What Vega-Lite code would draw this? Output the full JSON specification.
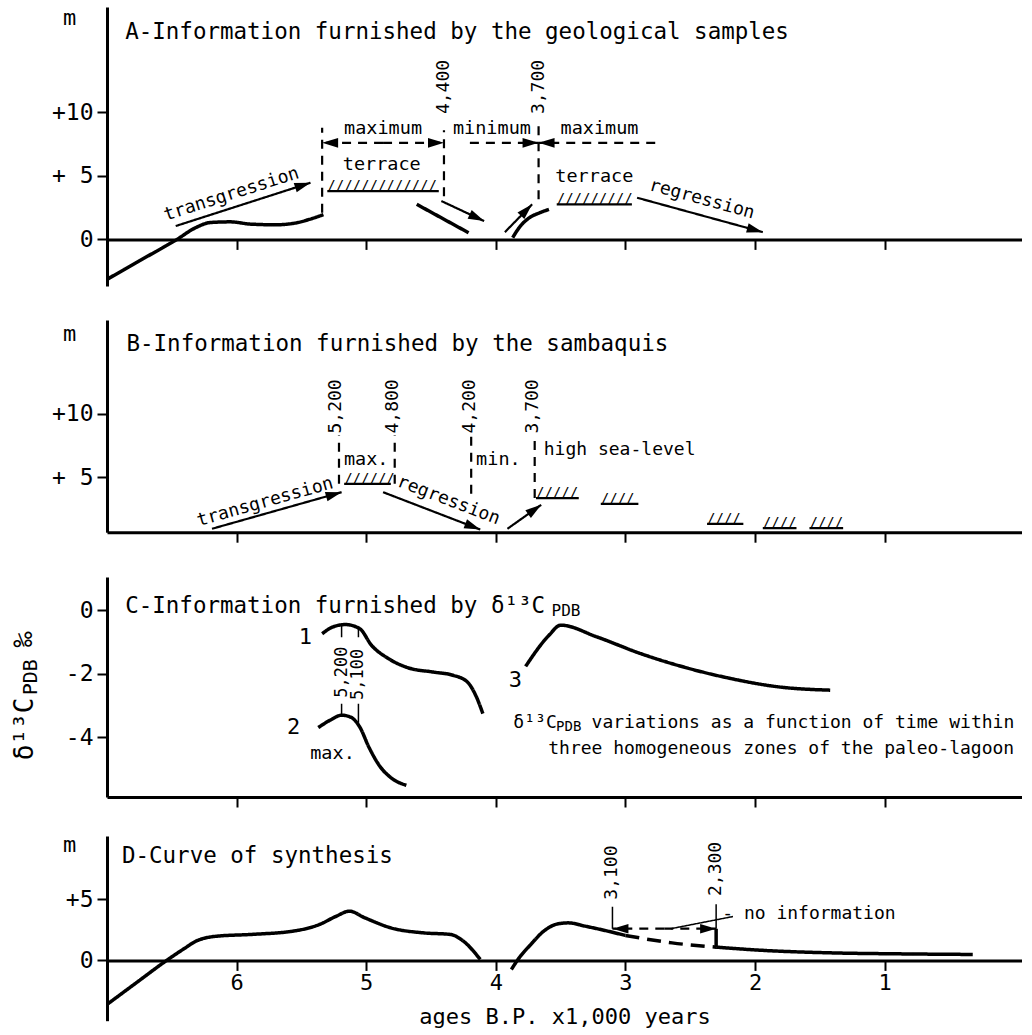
{
"$schema": "https://vega.github.io/schema/vega-lite/v6.json",
"padding": {"top": 6, "left": 11, "right": 0, "bottom": 0},
"background": "white",
"config": {
  "font": "DejaVu Sans Mono",
  "view": {"stroke": null},
  "axis": {"grid": false, "domainColor": "black", "domainWidth": 3, "tickColor": "black", "tickWidth": 2, "tickSize": 10, "labelColor": "black", "labelFont": "DejaVu Sans Mono", "labelFontSize": 23, "titleFont": "DejaVu Sans Mono", "titleFontSize": 22, "titleFontWeight": "normal", "titleColor": "black"},
  "text": {"font": "DejaVu Sans Mono", "color": "black"}
},
"datasets": {
  "aCurves": [
    {"s":"a1","x":7.0,"y":-3.15,"style":"curve"},{"s":"a1","x":6.75,"y":-1.69,"style":"curve"},{"s":"a1","x":6.46,"y":0,"style":"curve"},{"s":"a1","x":6.32,"y":0.9,"style":"curve"},{"s":"a1","x":6.2,"y":1.33,"style":"curve"},{"s":"a1","x":6.05,"y":1.38,"style":"curve"},{"s":"a1","x":5.89,"y":1.2,"style":"curve"},{"s":"a1","x":5.7,"y":1.15,"style":"curve"},{"s":"a1","x":5.55,"y":1.28,"style":"curve"},{"s":"a1","x":5.44,"y":1.57,"style":"curve"},{"s":"a1","x":5.33,"y":1.95,"style":"curve"},
    {"s":"a2","x":4.61,"y":2.76,"style":"curve"},{"s":"a2","x":4.21,"y":0.52,"style":"curve"},
    {"s":"a3","x":3.87,"y":0.13,"style":"curve"},{"s":"a3","x":3.82,"y":0.92,"style":"curve"},{"s":"a3","x":3.74,"y":1.71,"style":"curve"},{"s":"a3","x":3.66,"y":2.1,"style":"curve"},{"s":"a3","x":3.59,"y":2.36,"style":"curve"}
  ],
  "aSegs": [
    {"x":6.47,"y":1.05,"x2":5.43,"y2":4.46,"style":"line","head":-17.8,"label":"transgression","lx":6.04,"ly":3.54},
    {"x":4.42,"y":3.02,"x2":4.09,"y2":1.44,"style":"line","head":25.1},
    {"x":3.93,"y":0.57,"x2":3.72,"y2":2.76,"style":"line","head":-45.6},
    {"x":2.91,"y":3.28,"x2":1.94,"y2":0.57,"style":"line","head":15.3,"label":"regression","lx":2.41,"ly":3.15},
    {"x":5.34,"y":2.1,"x2":5.34,"y2":8.8,"style":"dash"},
    {"x":4.4,"y":3.4,"x2":4.4,"y2":8.6,"style":"dash"},
    {"x":3.67,"y":3.15,"x2":3.67,"y2":8.9,"style":"dash"},
    {"x":4.87,"y":7.6,"x2":5.34,"y2":7.6,"style":"dash","head":180},
    {"x":4.87,"y":7.6,"x2":4.4,"y2":7.6,"style":"dash","head":0},
    {"x":4.2,"y":7.6,"x2":3.67,"y2":7.6,"style":"dash","head":0},
    {"x":2.77,"y":7.6,"x2":3.67,"y2":7.6,"style":"dash","head":180}
  ],
  "aHatch": [
    {"x":5.30,"x2":4.44,"y":3.8,"h":"/////////////"},
    {"x":3.53,"x2":2.95,"y":2.76,"h":"/////////"}
  ],
  "aText": [
    {"kind":"title","x":6.86,"y":16.3,"t":"A-Information furnished by the geological samples"},
    {"kind":"label","x":4.87,"y":8.75,"t":"maximum"},
    {"kind":"label","x":4.03,"y":8.75,"t":"minimum"},
    {"kind":"label","x":3.2,"y":8.75,"t":"maximum"},
    {"kind":"label","x":4.88,"y":5.9,"t":"terrace"},
    {"kind":"label","x":3.24,"y":5.0,"t":"terrace"},
    {"kind":"date","x":4.4,"y":12.0,"t":"4,400"},
    {"kind":"date","x":3.67,"y":12.0,"t":"3,700"}
  ],
  "bSegs": [
    {"x":6.19,"y":0.92,"x2":5.19,"y2":3.81,"style":"line","head":-15.8,"label":"transgression","lx":5.78,"ly":3.02},
    {"x":4.87,"y":3.81,"x2":4.12,"y2":0.86,"style":"line","head":21.0,"label":"regression","lx":4.365,"ly":3.15},
    {"x":3.91,"y":0.92,"x2":3.65,"y2":2.81,"style":"line","head":-35.4},
    {"x":5.21,"y":4.47,"x2":5.21,"y2":8.3,"style":"dash"},
    {"x":4.78,"y":4.47,"x2":4.78,"y2":8.3,"style":"dash"},
    {"x":4.19,"y":3.68,"x2":4.19,"y2":8.3,"style":"dash"},
    {"x":3.70,"y":3.34,"x2":3.70,"y2":8.3,"style":"dash"}
  ],
  "bHatch": [
    {"x":5.17,"x2":4.81,"y":4.47,"h":"//////"},
    {"x":3.69,"x2":3.36,"y":3.34,"h":"/////"},
    {"x":3.19,"x2":2.90,"y":2.89,"h":"////"},
    {"x":2.37,"x2":2.09,"y":1.31,"h":"////"},
    {"x":1.94,"x2":1.68,"y":0.97,"h":"////"},
    {"x":1.58,"x2":1.32,"y":0.97,"h":"////"}
  ],
  "bText": [
    {"kind":"title","x":6.85,"y":15.5,"t":"B-Information furnished by the sambaquis"},
    {"kind":"label","x":5.0,"y":6.44,"t":"max."},
    {"kind":"label","x":3.98,"y":6.44,"t":"min."},
    {"kind":"labelL","x":3.63,"y":7.1,"t":"high sea-level"},
    {"kind":"date","x":5.23,"y":10.58,"t":"5,200"},
    {"kind":"date","x":4.79,"y":10.58,"t":"4,800"},
    {"kind":"date","x":4.2,"y":10.58,"t":"4,200"},
    {"kind":"date","x":3.71,"y":10.58,"t":"3,700"}
  ],
  "cCurves": [
    {"s":"c1","x":5.34,"y":-0.74,"style":"curve"},{"s":"c1","x":5.26,"y":-0.53,"style":"curve"},{"s":"c1","x":5.16,"y":-0.45,"style":"curve"},{"s":"c1","x":5.05,"y":-0.58,"style":"curve"},{"s":"c1","x":4.96,"y":-1.1,"style":"curve"},{"s":"c1","x":4.83,"y":-1.52,"style":"curve"},{"s":"c1","x":4.68,"y":-1.81,"style":"curve"},{"s":"c1","x":4.48,"y":-1.95,"style":"curve"},{"s":"c1","x":4.33,"y":-2.05,"style":"curve"},{"s":"c1","x":4.22,"y":-2.26,"style":"curve"},{"s":"c1","x":4.15,"y":-2.73,"style":"curve"},{"s":"c1","x":4.1,"y":-3.26,"style":"curve"},
    {"s":"c2","x":5.37,"y":-3.7,"style":"curve"},{"s":"c2","x":5.28,"y":-3.47,"style":"curve"},{"s":"c2","x":5.19,"y":-3.31,"style":"curve"},{"s":"c2","x":5.12,"y":-3.37,"style":"curve"},{"s":"c2","x":5.05,"y":-3.68,"style":"curve"},{"s":"c2","x":4.98,"y":-4.31,"style":"curve"},{"s":"c2","x":4.9,"y":-4.89,"style":"curve"},{"s":"c2","x":4.8,"y":-5.31,"style":"curve"},{"s":"c2","x":4.69,"y":-5.52,"style":"curve"},
    {"s":"c3","x":3.77,"y":-1.77,"style":"curve"},{"s":"c3","x":3.59,"y":-0.79,"style":"curve"},{"s":"c3","x":3.5,"y":-0.47,"style":"curve"},{"s":"c3","x":3.22,"y":-0.84,"style":"curve"},{"s":"c3","x":2.88,"y":-1.37,"style":"curve"},{"s":"c3","x":2.55,"y":-1.79,"style":"curve"},{"s":"c3","x":2.19,"y":-2.15,"style":"curve"},{"s":"c3","x":1.81,"y":-2.42,"style":"curve"},{"s":"c3","x":1.42,"y":-2.52,"style":"curve"}
  ],
  "cSegs": [
    {"x":5.19,"y":-0.45,"x2":5.19,"y2":-0.85,"style":"thin"},
    {"x":5.06,"y":-0.57,"x2":5.06,"y2":-0.85,"style":"thin"},
    {"x":5.19,"y":-3.31,"x2":5.19,"y2":-2.95,"style":"thin"},
    {"x":5.06,"y":-3.55,"x2":5.06,"y2":-2.95,"style":"thin"}
  ],
  "cText": [
    {"kind":"title","x":6.86,"y":0.15,"t":"C-Information furnished by δ¹³C"},
    {"kind":"sub","x":3.57,"y":-0.02,"t":"PDB"},
    {"kind":"num","x":5.47,"y":-0.84,"t":"1"},
    {"kind":"num","x":5.56,"y":-3.68,"t":"2"},
    {"kind":"num","x":3.85,"y":-2.21,"t":"3"},
    {"kind":"label","x":5.26,"y":-4.5,"t":"max."},
    {"kind":"sdate","x":5.19,"y":-1.95,"t":"5,200"},
    {"kind":"sdate","x":5.06,"y":-2.02,"t":"5,100"},
    {"kind":"note","x":0.0,"y":-3.56,"t":"variations as a function of time within"},
    {"kind":"note","x":3.53,"y":-3.56,"t":"δ¹³C"},
    {"kind":"noteSub","x":3.34,"y":-3.69,"t":"PDB"},
    {"kind":"note","x":0.0,"y":-4.39,"t":"three homogeneous zones of the paleo-lagoon"},
    {"kind":"yt","x":7.635,"y":-4.73,"t":"δ¹³C"},
    {"kind":"ytsub","x":7.585,"y":-2.68,"t":"PDB"},
    {"kind":"yt","x":7.64,"y":-1.17,"t":"‰"}
  ],
  "dCurves": [
    {"s":"d1","x":7.0,"y":-3.61,"style":"curve"},{"s":"d1","x":6.77,"y":-1.8,"style":"curve"},{"s":"d1","x":6.54,"y":0,"style":"curve"},{"s":"d1","x":6.4,"y":1.0,"style":"curve"},{"s":"d1","x":6.31,"y":1.6,"style":"curve"},{"s":"d1","x":6.15,"y":1.99,"style":"curve"},{"s":"d1","x":5.89,"y":2.13,"style":"curve"},{"s":"d1","x":5.56,"y":2.41,"style":"curve"},{"s":"d1","x":5.36,"y":2.95,"style":"curve"},{"s":"d1","x":5.23,"y":3.63,"style":"curve"},{"s":"d1","x":5.13,"y":4.04,"style":"curve"},{"s":"d1","x":5.01,"y":3.49,"style":"curve"},{"s":"d1","x":4.81,"y":2.67,"style":"curve"},{"s":"d1","x":4.56,"y":2.26,"style":"curve"},{"s":"d1","x":4.35,"y":2.13,"style":"curve"},{"s":"d1","x":4.25,"y":1.58,"style":"curve"},{"s":"d1","x":4.12,"y":0.08,"style":"curve"},
    {"s":"d2","x":3.88,"y":-0.74,"style":"curve"},{"s":"d2","x":3.82,"y":0.21,"style":"curve"},{"s":"d2","x":3.73,"y":1.31,"style":"curve"},{"s":"d2","x":3.63,"y":2.4,"style":"curve"},{"s":"d2","x":3.52,"y":3.0,"style":"curve"},{"s":"d2","x":3.44,"y":3.08,"style":"curve"},{"s":"d2","x":3.31,"y":2.81,"style":"curve"},{"s":"d2","x":3.16,"y":2.46,"style":"curve"},{"s":"d2","x":3.0,"y":2.05,"style":"curve"},
    {"s":"d3","x":3.0,"y":2.05,"style":"curvedash"},{"s":"d3","x":2.64,"y":1.44,"style":"curvedash"},{"s":"d3","x":2.3,"y":1.09,"style":"curvedash"},
    {"s":"d4","x":2.3,"y":1.09,"style":"curve"},{"s":"d4","x":1.93,"y":0.82,"style":"curve"},{"s":"d4","x":1.41,"y":0.62,"style":"curve"},{"s":"d4","x":0.89,"y":0.54,"style":"curve"},{"s":"d4","x":0.32,"y":0.49,"style":"curve"}
  ],
  "dSegs": [
    {"x":2.3,"y":1.09,"x2":2.3,"y2":2.6,"style":"thick"},
    {"x":2.7,"y":2.6,"x2":3.1,"y2":2.6,"style":"dash","head":180},
    {"x":2.7,"y":2.6,"x2":2.3,"y2":2.6,"style":"dash","head":0},
    {"x":3.1,"y":2.6,"x2":3.1,"y2":4.4,"style":"thin"},
    {"x":2.3,"y":2.6,"x2":2.3,"y2":4.6,"style":"thin"},
    {"x":2.17,"y":3.6,"x2":2.65,"y2":2.6,"style":"thin"}
  ],
  "dText": [
    {"kind":"title","x":6.885,"y":8.55,"t":"D-Curve of synthesis"},
    {"kind":"date","x":3.1,"y":7.2,"t":"3,100"},
    {"kind":"date","x":2.3,"y":7.5,"t":"2,300"},
    {"kind":"labelL","x":2.253,"y":3.8,"t":"- no information"}
  ]
},
"spacing": 25,
"vconcat": [
 {
  "spacing": 33,
  "vconcat": [
   {
    "width": 915, "height": 279.1,
    "layer": [
     {"data":{"name":"aSegs"},"mark":{"type":"rule","color":"black"},
      "encoding":{
       "x":{"field":"x","type":"quantitative","title":null,"scale":{"domain":[7,-0.06],"nice":false,"zero":false},"axis":{"values":[1,2,3,4,5,6],"labels":false,"title":null,"offset":-46.7}},
       "x2":{"field":"x2"},
       "y":{"field":"y","type":"quantitative","title":"m","scale":{"domain":[-3.68,18.3],"nice":false,"zero":false},"axis":{"values":[0,5,10],"labelExpr":"datum.value == 0 ? '0' : datum.value == 5 ? '+ 5' : '+10'","title":"m","titleAngle":0,"titleX":-38,"titleY":10,"titleAlign":"center","titleBaseline":"middle","labelPadding":4}},
       "y2":{"field":"y2"},
       "strokeDash":{"field":"style","type":"nominal","scale":{"domain":["line","dash","thin","thick","curve","curvedash"],"range":[[1,0],[9,7],[1,0],[1,0],[1,0],[14,8]]},"legend":null},
       "strokeWidth":{"field":"style","type":"nominal","scale":{"type":"ordinal","domain":["line","dash","thin","thick","curve","curvedash"],"range":[2.2,2.2,1.5,3.5,3.5,3.5]},"legend":null}}},
     {"data":{"name":"aCurves"},"mark":{"type":"line","interpolate":"monotone","color":"black"},
      "encoding":{
       "x":{"field":"x","type":"quantitative","title":null},
       "y":{"field":"y","type":"quantitative","title":"m"},
       "detail":{"field":"s"},
       "strokeDash":{"field":"style","type":"nominal","scale":{"domain":["line","dash","thin","thick","curve","curvedash"],"range":[[1,0],[9,7],[1,0],[1,0],[1,0],[14,8]]},"legend":null},
       "strokeWidth":{"field":"style","type":"nominal","scale":{"type":"ordinal","domain":["line","dash","thin","thick","curve","curvedash"],"range":[2.2,2.2,1.5,3.5,3.5,3.5]},"legend":null}}},
     {"data":{"name":"aSegs"},"transform":[{"filter":"isValid(datum.head)"}],
      "mark":{"type":"point","shape":"M-2,-0.6L0,0L-2,0.6Z","filled":true,"color":"black","opacity":1,"size":256},
      "encoding":{
       "x":{"field":"x2","type":"quantitative","title":null},
       "y":{"field":"y2","type":"quantitative","title":"m"},
       "angle":{"field":"head","type":"quantitative","scale":null}}},
     {"data":{"name":"aSegs"},"transform":[{"filter":"isValid(datum.label)"}],
      "mark":{"type":"text","fontSize":18,"align":"center","baseline":"middle"},
      "encoding":{
       "x":{"field":"lx","type":"quantitative","title":null},
       "y":{"field":"ly","type":"quantitative","title":"m"},
       "text":{"field":"label"},
       "angle":{"field":"head","type":"quantitative","scale":null}}},
     {"data":{"name":"aHatch"},"mark":{"type":"rule","color":"black","strokeWidth":2.2},
      "encoding":{
       "x":{"field":"x","type":"quantitative","title":null},
       "x2":{"field":"x2"},
       "y":{"field":"y","type":"quantitative","title":"m"}}},
     {"data":{"name":"aHatch"},"mark":{"type":"text","fontSize":14,"align":"left","baseline":"alphabetic","dy":-1},
      "encoding":{
       "x":{"field":"x","type":"quantitative","title":null},
       "y":{"field":"y","type":"quantitative","title":"m"},
       "text":{"field":"h"}}},
     {"data":{"name":"aText"},"transform":[{"filter":"datum.kind == 'title'"}],
      "mark":{"type":"text","fontSize":22.5,"align":"left","baseline":"middle"},
      "encoding":{
       "x":{"field":"x","type":"quantitative","title":null},
       "y":{"field":"y","type":"quantitative","title":"m"},
       "text":{"field":"t"}}},
     {"data":{"name":"aText"},"transform":[{"filter":"datum.kind == 'label'"}],
      "mark":{"type":"text","fontSize":18.5,"align":"center","baseline":"middle"},
      "encoding":{
       "x":{"field":"x","type":"quantitative","title":null},
       "y":{"field":"y","type":"quantitative","title":"m"},
       "text":{"field":"t"}}},
     {"data":{"name":"aText"},"transform":[{"filter":"datum.kind == 'date'"}],
      "mark":{"type":"text","fontSize":18,"align":"center","baseline":"middle","angle":270},
      "encoding":{
       "x":{"field":"x","type":"quantitative","title":null},
       "y":{"field":"y","type":"quantitative","title":"m"},
       "text":{"field":"t"}}}
    ]
   },
   {
    "width": 915, "height": 212.2,
    "layer": [
     {"data":{"name":"bSegs"},"mark":{"type":"rule","color":"black"},
      "encoding":{
       "x":{"field":"x","type":"quantitative","title":null,"scale":{"domain":[7,-0.06],"nice":false,"zero":false},"axis":{"values":[1,2,3,4,5,6],"labels":false,"title":null}},
       "x2":{"field":"x2"},
       "y":{"field":"y","type":"quantitative","title":"m","scale":{"domain":[0.65,17.4],"nice":false,"zero":false},"axis":{"values":[5,10],"labelExpr":"datum.value == 5 ? '+ 5' : '+10'","title":"m","titleAngle":0,"titleX":-38,"titleY":13,"titleAlign":"center","titleBaseline":"middle","labelPadding":4}},
       "y2":{"field":"y2"},
       "strokeDash":{"field":"style","type":"nominal","scale":{"domain":["line","dash","thin","thick","curve","curvedash"],"range":[[1,0],[9,7],[1,0],[1,0],[1,0],[14,8]]},"legend":null},
       "strokeWidth":{"field":"style","type":"nominal","scale":{"type":"ordinal","domain":["line","dash","thin","thick","curve","curvedash"],"range":[2.2,2.2,1.5,3.5,3.5,3.5]},"legend":null}}},
     {"data":{"name":"bSegs"},"transform":[{"filter":"isValid(datum.head)"}],
      "mark":{"type":"point","shape":"M-2,-0.6L0,0L-2,0.6Z","filled":true,"color":"black","opacity":1,"size":256},
      "encoding":{
       "x":{"field":"x2","type":"quantitative","title":null},
       "y":{"field":"y2","type":"quantitative","title":"m"},
       "angle":{"field":"head","type":"quantitative","scale":null}}},
     {"data":{"name":"bSegs"},"transform":[{"filter":"isValid(datum.label)"}],
      "mark":{"type":"text","fontSize":18,"align":"center","baseline":"middle"},
      "encoding":{
       "x":{"field":"lx","type":"quantitative","title":null},
       "y":{"field":"ly","type":"quantitative","title":"m"},
       "text":{"field":"label"},
       "angle":{"field":"head","type":"quantitative","scale":null}}},
     {"data":{"name":"bHatch"},"mark":{"type":"rule","color":"black","strokeWidth":2.2},
      "encoding":{
       "x":{"field":"x","type":"quantitative","title":null},
       "x2":{"field":"x2"},
       "y":{"field":"y","type":"quantitative","title":"m"}}},
     {"data":{"name":"bHatch"},"mark":{"type":"text","fontSize":14,"align":"left","baseline":"alphabetic","dy":-1},
      "encoding":{
       "x":{"field":"x","type":"quantitative","title":null},
       "y":{"field":"y","type":"quantitative","title":"m"},
       "text":{"field":"h"}}},
     {"data":{"name":"bText"},"transform":[{"filter":"datum.kind == 'title'"}],
      "mark":{"type":"text","fontSize":22.5,"align":"left","baseline":"middle"},
      "encoding":{
       "x":{"field":"x","type":"quantitative","title":null},
       "y":{"field":"y","type":"quantitative","title":"m"},
       "text":{"field":"t"}}},
     {"data":{"name":"bText"},"transform":[{"filter":"datum.kind == 'label'"}],
      "mark":{"type":"text","fontSize":18.5,"align":"center","baseline":"middle"},
      "encoding":{
       "x":{"field":"x","type":"quantitative","title":null},
       "y":{"field":"y","type":"quantitative","title":"m"},
       "text":{"field":"t"}}},
     {"data":{"name":"bText"},"transform":[{"filter":"datum.kind == 'labelL'"}],
      "mark":{"type":"text","fontSize":18,"align":"left","baseline":"middle"},
      "encoding":{
       "x":{"field":"x","type":"quantitative","title":null},
       "y":{"field":"y","type":"quantitative","title":"m"},
       "text":{"field":"t"}}},
     {"data":{"name":"bText"},"transform":[{"filter":"datum.kind == 'date'"}],
      "mark":{"type":"text","fontSize":18,"align":"center","baseline":"middle","angle":270},
      "encoding":{
       "x":{"field":"x","type":"quantitative","title":null},
       "y":{"field":"y","type":"quantitative","title":"m"},
       "text":{"field":"t"}}}
    ]
   },
   {
    "width": 915, "height": 220,
    "layer": [
     {"data":{"name":"cSegs"},"mark":{"type":"rule","color":"black"},
      "encoding":{
       "x":{"field":"x","type":"quantitative","title":null,"scale":{"domain":[7,-0.06],"nice":false,"zero":false},"axis":{"values":[1,2,3,4,5,6],"labels":false,"title":null}},
       "x2":{"field":"x2"},
       "y":{"field":"y","type":"quantitative","title":null,"scale":{"domain":[-5.89,1.05],"nice":false,"zero":false},"axis":{"values":[0,-2,-4],"labelExpr":"datum.value == 0 ? '0' : '-' + abs(datum.value)","title":null,"labelPadding":4}},
       "y2":{"field":"y2"},
       "strokeDash":{"field":"style","type":"nominal","scale":{"domain":["line","dash","thin","thick","curve","curvedash"],"range":[[1,0],[9,7],[1,0],[1,0],[1,0],[14,8]]},"legend":null},
       "strokeWidth":{"field":"style","type":"nominal","scale":{"type":"ordinal","domain":["line","dash","thin","thick","curve","curvedash"],"range":[2.2,2.2,1.5,3.5,3.5,3.5]},"legend":null}}},
     {"data":{"name":"cCurves"},"mark":{"type":"line","interpolate":"monotone","color":"black"},
      "encoding":{
       "x":{"field":"x","type":"quantitative","title":null},
       "y":{"field":"y","type":"quantitative","title":null},
       "detail":{"field":"s"},
       "strokeDash":{"field":"style","type":"nominal","scale":{"domain":["line","dash","thin","thick","curve","curvedash"],"range":[[1,0],[9,7],[1,0],[1,0],[1,0],[14,8]]},"legend":null},
       "strokeWidth":{"field":"style","type":"nominal","scale":{"type":"ordinal","domain":["line","dash","thin","thick","curve","curvedash"],"range":[2.2,2.2,1.5,3.5,3.5,3.5]},"legend":null}}},
     {"data":{"name":"cText"},"transform":[{"filter":"datum.kind == 'title'"}],
      "mark":{"type":"text","fontSize":22.5,"align":"left","baseline":"middle"},
      "encoding":{
       "x":{"field":"x","type":"quantitative","title":null},
       "y":{"field":"y","type":"quantitative","title":null},
       "text":{"field":"t"}}},
     {"data":{"name":"cText"},"transform":[{"filter":"datum.kind == 'sub'"}],
      "mark":{"type":"text","fontSize":16,"align":"left","baseline":"middle"},
      "encoding":{
       "x":{"field":"x","type":"quantitative","title":null},
       "y":{"field":"y","type":"quantitative","title":null},
       "text":{"field":"t"}}},
     {"data":{"name":"cText"},"transform":[{"filter":"datum.kind == 'num'"}],
      "mark":{"type":"text","fontSize":22,"align":"center","baseline":"middle"},
      "encoding":{
       "x":{"field":"x","type":"quantitative","title":null},
       "y":{"field":"y","type":"quantitative","title":null},
       "text":{"field":"t"}}},
     {"data":{"name":"cText"},"transform":[{"filter":"datum.kind == 'label'"}],
      "mark":{"type":"text","fontSize":18.5,"align":"center","baseline":"middle"},
      "encoding":{
       "x":{"field":"x","type":"quantitative","title":null},
       "y":{"field":"y","type":"quantitative","title":null},
       "text":{"field":"t"}}},
     {"data":{"name":"cText"},"transform":[{"filter":"datum.kind == 'sdate'"}],
      "mark":{"type":"text","fontSize":17,"align":"center","baseline":"middle","angle":270},
      "encoding":{
       "x":{"field":"x","type":"quantitative","title":null},
       "y":{"field":"y","type":"quantitative","title":null},
       "text":{"field":"t"}}},
     {"data":{"name":"cText"},"transform":[{"filter":"datum.kind == 'note'"}],
      "mark":{"type":"text","fontSize":18,"align":"right","baseline":"middle"},
      "encoding":{
       "x":{"field":"x","type":"quantitative","title":null},
       "y":{"field":"y","type":"quantitative","title":null},
       "text":{"field":"t"}}},
     {"data":{"name":"cText"},"transform":[{"filter":"datum.kind == 'noteSub'"}],
      "mark":{"type":"text","fontSize":14,"align":"right","baseline":"middle"},
      "encoding":{
       "x":{"field":"x","type":"quantitative","title":null},
       "y":{"field":"y","type":"quantitative","title":null},
       "text":{"field":"t"}}},
     {"data":{"name":"cText"},"transform":[{"filter":"datum.kind == 'yt'"}],
      "mark":{"type":"text","fontSize":26,"align":"left","baseline":"middle","angle":270},
      "encoding":{
       "x":{"field":"x","type":"quantitative","title":null},
       "y":{"field":"y","type":"quantitative","title":null},
       "text":{"field":"t"}}},
     {"data":{"name":"cText"},"transform":[{"filter":"datum.kind == 'ytsub'"}],
      "mark":{"type":"text","fontSize":20,"align":"left","baseline":"middle","angle":270},
      "encoding":{
       "x":{"field":"x","type":"quantitative","title":null},
       "y":{"field":"y","type":"quantitative","title":null},
       "text":{"field":"t"}}}
    ]
   }
  ]
 },
 {
  "width": 915, "height": 184.7,
  "layer": [
   {"data":{"name":"dSegs"},"mark":{"type":"rule","color":"black"},
    "encoding":{
     "x":{"field":"x","type":"quantitative","title":"ages B.P. x1,000 years","scale":{"domain":[7,-0.06],"nice":false,"zero":false},"axis":{"values":[1,2,3,4,5,6],"format":"d","labelFontSize":22,"labelPadding":2,"offset":-60.3,"title":"ages B.P. x1,000 years","titleFontSize":22,"titlePadding":13}},
     "x2":{"field":"x2"},
     "y":{"field":"y","type":"quantitative","title":"m","scale":{"domain":[-4.94,10.2],"nice":false,"zero":false},"axis":{"values":[0,5],"labelExpr":"datum.value == 0 ? '0' : '+5'","title":"m","titleAngle":0,"titleX":-38,"titleY":8,"titleAlign":"center","titleBaseline":"middle","labelPadding":4}},
     "y2":{"field":"y2"},
     "strokeDash":{"field":"style","type":"nominal","scale":{"domain":["line","dash","thin","thick","curve","curvedash"],"range":[[1,0],[9,7],[1,0],[1,0],[1,0],[14,8]]},"legend":null},
     "strokeWidth":{"field":"style","type":"nominal","scale":{"type":"ordinal","domain":["line","dash","thin","thick","curve","curvedash"],"range":[2.2,2.2,1.5,3.5,3.5,3.5]},"legend":null}}},
   {"data":{"name":"dCurves"},"mark":{"type":"line","interpolate":"monotone","color":"black"},
    "encoding":{
     "x":{"field":"x","type":"quantitative","title":"ages B.P. x1,000 years"},
     "y":{"field":"y","type":"quantitative","title":"m"},
     "detail":{"field":"s"},
     "strokeDash":{"field":"style","type":"nominal","scale":{"domain":["line","dash","thin","thick","curve","curvedash"],"range":[[1,0],[9,7],[1,0],[1,0],[1,0],[14,8]]},"legend":null},
     "strokeWidth":{"field":"style","type":"nominal","scale":{"type":"ordinal","domain":["line","dash","thin","thick","curve","curvedash"],"range":[2.2,2.2,1.5,3.5,3.5,3.5]},"legend":null}}},
   {"data":{"name":"dSegs"},"transform":[{"filter":"isValid(datum.head)"}],
    "mark":{"type":"point","shape":"M-2,-0.6L0,0L-2,0.6Z","filled":true,"color":"black","opacity":1,"size":256},
    "encoding":{
     "x":{"field":"x2","type":"quantitative","title":"ages B.P. x1,000 years"},
     "y":{"field":"y2","type":"quantitative","title":"m"},
     "angle":{"field":"head","type":"quantitative","scale":null}}},
   {"data":{"name":"dText"},"transform":[{"filter":"datum.kind == 'title'"}],
    "mark":{"type":"text","fontSize":22.5,"align":"left","baseline":"middle"},
    "encoding":{
     "x":{"field":"x","type":"quantitative","title":"ages B.P. x1,000 years"},
     "y":{"field":"y","type":"quantitative","title":"m"},
     "text":{"field":"t"}}},
   {"data":{"name":"dText"},"transform":[{"filter":"datum.kind == 'date'"}],
    "mark":{"type":"text","fontSize":18,"align":"center","baseline":"middle","angle":270},
    "encoding":{
     "x":{"field":"x","type":"quantitative","title":"ages B.P. x1,000 years"},
     "y":{"field":"y","type":"quantitative","title":"m"},
     "text":{"field":"t"}}},
   {"data":{"name":"dText"},"transform":[{"filter":"datum.kind == 'labelL'"}],
    "mark":{"type":"text","fontSize":18,"align":"left","baseline":"middle"},
    "encoding":{
     "x":{"field":"x","type":"quantitative","title":"ages B.P. x1,000 years"},
     "y":{"field":"y","type":"quantitative","title":"m"},
     "text":{"field":"t"}}}
  ]
 }
]
}
